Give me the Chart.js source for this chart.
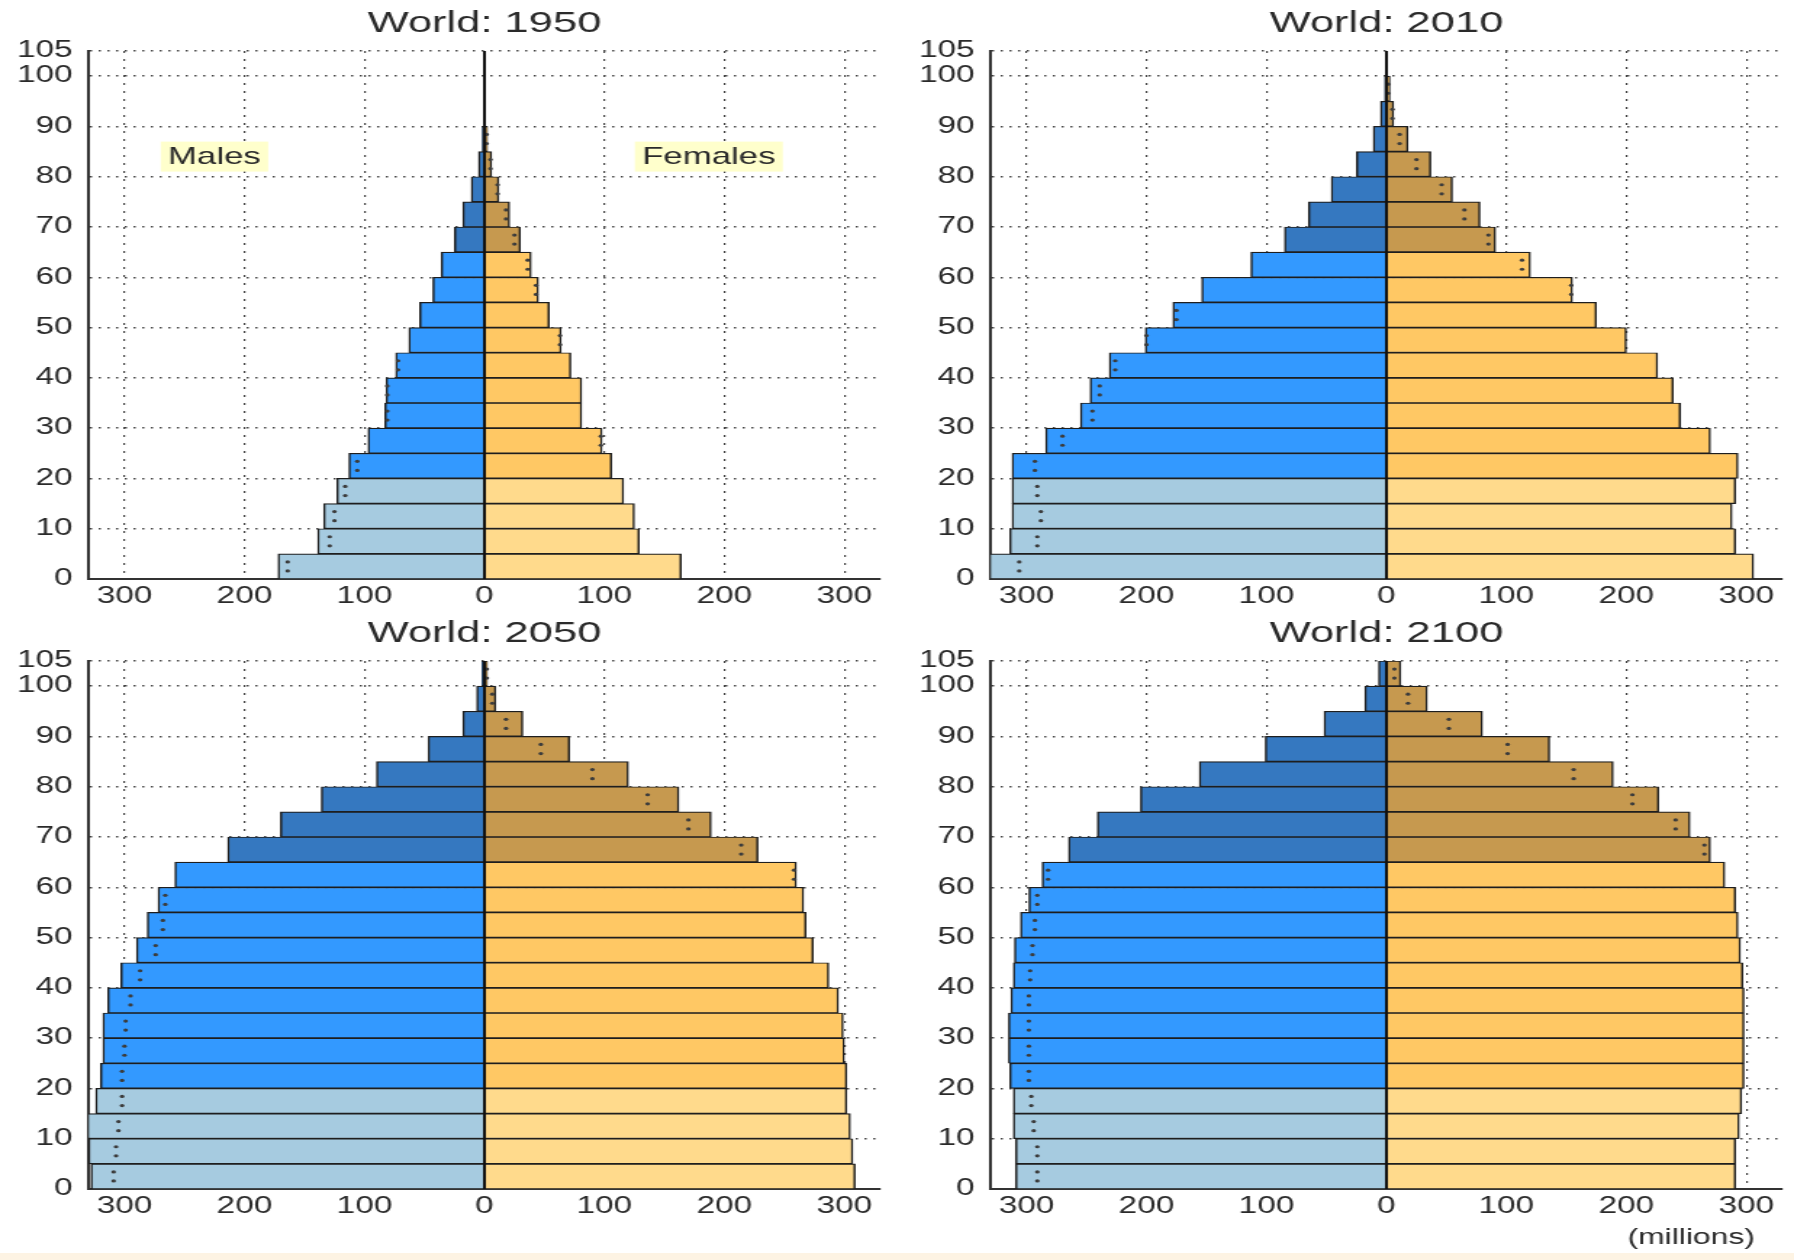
<!DOCTYPE html>
<html>
<head>
<meta charset="utf-8">
<script src="https://cdn.jsdelivr.net/npm/chart.js@4.4.0/dist/chart.umd.min.js"></script>
<style>
html, body { margin: 0; padding: 0; background: #fff; }
body { width: 1794px; height: 1260px; position: relative; overflow: hidden; }
canvas { position: absolute; }
.top { width: 892px !important; height: 610px !important; top: 0; }
.bot { width: 892px !important; height: 650px !important; top: 610px; }
.l { left: 0; }
.r { left: 902px; }
#strip { position: absolute; left: 0; top: 1253px; width: 1794px; height: 7px; background: #fdf3e3; }
</style>
</head>
<body>
<canvas id="c1950" class="top l" width="615" height="610"></canvas>
<canvas id="c2010" class="top r" width="615" height="610"></canvas>
<canvas id="c2050" class="bot l" width="615" height="650"></canvas>
<canvas id="c2100" class="bot r" width="615" height="650"></canvas>
<div id="strip"></div>
<script>
var ageGroups = ['0-4','5-9','10-14','15-19','20-24','25-29','30-34','35-39','40-44','45-49','50-54',
                 '55-59','60-64','65-69','70-74','75-79','80-84','85-89','90-94','95-99','100+'];
var ageStart = [0,5,10,15,20,25,30,35,40,45,50,55,60,65,70,75,80,85,90,95,100];
var xTicks = [-300,-200,-100,0,100,200,300];
var yTicks = [0,10,20,30,40,50,60,70,80,90,100,105];

// millions
var male1950   = [172,139,134,123,113,97,83,82,74,63,54,43,36,25,18,11,5,1.8,0.5,0.1,0.02];
var female1950 = [164,129,125,116,106,98,81,81,72,64,54,45,39,30,21,12,6,2.6,0.9,0.2,0.03];
var male2010   = [331,314,312,312,312,284,255,247,231,201,178,154,113,85,65,46,25,11,5,1.5,0.2];
var female2010 = [306,291,288,291,293,270,245,239,226,200,175,155,120,91,78,55,37,18,6,3,0.4];
var male2050   = [328,330,331,324,320,318,318,314,303,290,281,272,258,214,170,136,90,47,18,6.5,2];
var female2050 = [309,307,305,302,302,300,299,295,287,274,268,266,260,228,189,162,120,71,32,9.5,2.5];
var male2100   = [309,309,311,311,314,315,315,313,311,310,305,298,287,265,241,205,156,101,52,18,6.6];
var female2100 = [291,291,294,296,298,298,298,298,297,295,293,291,282,270,253,227,189,136,80,34,12];

var maleColors = ['#A6CBE0', '#3399FF', '#3578C0'];
var femaleColors = ['#FFDA8C', '#FFC864', '#C6994F'];

Chart.defaults.font.family = '"Liberation Sans", Arial, sans-serif';
Chart.defaults.color = '#2a2a2a';

function band(i) { return i < 4 ? 0 : (i < 13 ? 1 : 2); }

function bars(values, sign) {
    return values.map(function(v, i) { return {x: sign * v, y: ageStart[i] + 2.5}; });
}

// opposite sex value, shown as dots inside the bar
function dots(own, other, sign) {
    var pts = [];
    for (var i = 0; i < own.length; i++) {
        if (other[i] < own[i] && other[i] > 1) {
            pts.push({x: sign * other[i], y: ageStart[i] + 1.6});
            pts.push({x: sign * other[i], y: ageStart[i] + 3.4});
        }
    }
    return pts;
}

var centerLine = {
    id: 'centerLine',
    afterDatasetsDraw: function(chart) {
        var x = chart.scales.x, y = chart.scales.y, ctx = chart.ctx;
        var px = x.getPixelForValue(0);
        ctx.save();
        ctx.strokeStyle = '#111';
        ctx.lineWidth = 2;
        ctx.beginPath();
        ctx.moveTo(px, y.getPixelForValue(y.min));
        ctx.lineTo(px, y.getPixelForValue(y.max));
        ctx.stroke();
        ctx.restore();
    }
};

function notes(items) {
    return {
        id: 'notes',
        afterDraw: function(chart) {
            var ctx = chart.ctx;
            items.forEach(function(n) {
                var px = chart.scales.x.getPixelForValue(n.x);
                var py = chart.scales.y.getPixelForValue(n.y);
                ctx.save();
                ctx.font = n.size + 'px "Liberation Sans", Arial, sans-serif';
                ctx.textAlign = 'center';
                ctx.textBaseline = 'middle';
                if (n.bg) {
                    var w = ctx.measureText(n.text).width + 10;
                    ctx.fillStyle = n.bg;
                    ctx.fillRect(px - w / 2, py - 15, w, 30);
                }
                ctx.fillStyle = '#2a2a2a';
                ctx.fillText(n.text, px, py + 1);
                ctx.restore();
            });
        }
    };
}

function pyramid(id, year, male, female, labels, bottomPad) {
    new Chart(document.getElementById(id), {
        type: 'bar',
        data: {
            datasets: [
                {
                    label: 'Males',
                    data: bars(male, -1),
                    backgroundColor: function(c) { return maleColors[band(c.dataIndex)]; },
                    order: 2
                },
                {
                    label: 'Females',
                    data: bars(female, 1),
                    backgroundColor: function(c) { return femaleColors[band(c.dataIndex)]; },
                    order: 2
                },
                {
                    type: 'scatter',
                    data: dots(male, female, -1).concat(dots(female, male, 1)),
                    pointRadius: 1.6,
                    pointBackgroundColor: '#3c3c3c',
                    pointBorderWidth: 0,
                    order: 1
                }
            ]
        },
        options: {
            responsive: false,
            animation: false,
            devicePixelRatio: 1,
            indexAxis: 'y',
            events: [],
            datasets: {
                bar: {
                    grouped: false,
                    barPercentage: 1,
                    categoryPercentage: 1,
                    borderColor: '#1e1e1e',
                    borderWidth: {top: 1.2, bottom: 1.2, left: 1.5, right: 1.5},
                    borderSkipped: 'start'
                }
            },
            layout: {padding: {left: 0, right: 8, top: 0, bottom: bottomPad}},
            plugins: {
                legend: {display: false},
                tooltip: {enabled: false},
                title: {
                    display: true,
                    text: 'World: ' + year,
                    fullSize: false,
                    color: '#2a2a2a',
                    font: {size: 30, weight: 'normal'},
                    padding: {top: 6, bottom: 9}
                }
            },
            scales: {
                x: {
                    type: 'linear',
                    min: -330,
                    max: 330,
                    offset: false,
                    afterBuildTicks: function(s) { s.ticks = xTicks.map(function(v) { return {value: v}; }); },
                    afterFit: function(s) { s.height = 31; },
                    ticks: {
                        callback: function(v) { return Math.abs(v); },
                        autoSkip: false,
                        maxRotation: 0,
                        padding: 4,
                        font: {size: 23}
                    },
                    grid: {
                        drawTicks: false,
                        offset: false,
                        lineWidth: 1.2,
                        color: function(c) { return c.tick && c.tick.value === 0 ? 'rgba(0,0,0,0)' : '#444'; }
                    },
                    border: {color: '#333', width: 2, dash: [2, 6]}
                },
                y: {
                    type: 'linear',
                    min: 0,
                    max: 105,
                    offset: false,
                    afterBuildTicks: function(s) { s.ticks = yTicks.map(function(v) { return {value: v}; }); },
                    afterFit: function(s) { s.width = 61; },
                    ticks: {
                        autoSkip: false,
                        padding: 11,
                        font: {size: 23}
                    },
                    grid: {drawTicks: false, offset: false, lineWidth: 1.5, color: '#444'},
                    border: {color: '#333', width: 2, dash: [1.5, 4.5]}
                }
            }
        },
        plugins: [centerLine, notes(labels)]
    });
}

pyramid('c1950', 1950, male1950, female1950, [
    {text: 'Males', x: -225, y: 84, size: 24, bg: '#FFFFCC'},
    {text: 'Females', x: 187, y: 84, size: 24, bg: '#FFFFCC'}
], 0);
pyramid('c2010', 2010, male2010, female2010, [], 0);
pyramid('c2050', 2050, male2050, female2050, [], 40);
pyramid('c2100', 2100, male2100, female2100, [
    {text: '(millions)', x: 254, y: -9.6, size: 22}
], 40);
</script>
</body>
</html>
